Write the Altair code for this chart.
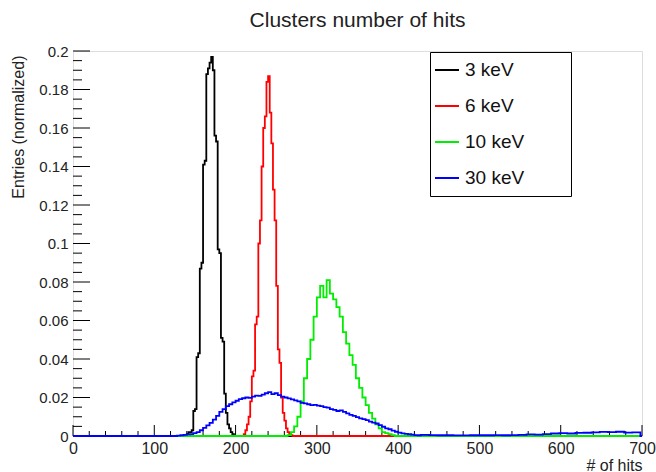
import altair as alt
import pandas as pd

# ---------------- data ----------------
series_names = ["3 keV", "6 keV", "10 keV", "30 keV"]
series_colors = ["#000000", "#ff0000", "#00ee00", "#0000ff"]

# 3 keV : bins of 2 hits starting at 140
k3_start, k3_step = 140, 2
k3_values = [0.001, 0.002, 0.002, 0.003, 0.013, 0.014, 0.041, 0.043, 0.087, 0.090,
             0.141, 0.143, 0.188, 0.191, 0.194, 0.197, 0.190, 0.156, 0.153, 0.097,
             0.095, 0.051, 0.049, 0.022, 0.012, 0.006, 0.004, 0.002, 0.001]

# 6 keV : bins of 2 hits starting at 210
k6_start, k6_step = 210, 2
k6_values = [0.001, 0.003, 0.006, 0.010, 0.018, 0.031, 0.034, 0.058, 0.062, 0.100,
             0.112, 0.140, 0.160, 0.166, 0.184, 0.187, 0.168, 0.152, 0.128, 0.112,
             0.078, 0.045, 0.038, 0.020, 0.012, 0.008, 0.004, 0.002, 0.001, 0.0005]

# 10 keV : bins of 4 hits starting at 264
k10_start, k10_step = 264, 4
k10_values = [0.0005, 0.002, 0.005, 0.010, 0.018, 0.030, 0.040, 0.050, 0.062, 0.072,
              0.078, 0.072, 0.081, 0.074, 0.071, 0.067, 0.062, 0.054, 0.048, 0.042,
              0.037, 0.030, 0.025, 0.020, 0.016, 0.012, 0.009, 0.006, 0.004, 0.002,
              0.0015, 0.001, 0.0005]

# 30 keV : bins of 4 hits starting at 128 (main bump)
k30_start, k30_step = 128, 4
k30_values = [0.0002, 0.0004, 0.0006, 0.0008, 0.0010, 0.0015, 0.0020, 0.0030, 0.0042, 0.0055,
              0.0068, 0.0085, 0.0105, 0.0125, 0.0140, 0.0155, 0.0165, 0.0175, 0.0183, 0.0192,
              0.0196, 0.0200, 0.0198, 0.0205, 0.0210, 0.0208, 0.0215, 0.0222, 0.0228, 0.0218,
              0.0222, 0.0212, 0.0205, 0.0200, 0.0195, 0.0190, 0.0185, 0.0180, 0.0172, 0.0170,
              0.0165, 0.0160, 0.0162, 0.0158, 0.0155, 0.0150, 0.0147, 0.0140, 0.0136, 0.0130,
              0.0133, 0.0125, 0.0118, 0.0110, 0.0105, 0.0098, 0.0092, 0.0088, 0.0082, 0.0075,
              0.0070, 0.0065, 0.0056, 0.0048, 0.0040, 0.0035, 0.0028, 0.0022, 0.0018, 0.0014,
              0.0011, 0.0009, 0.0007, 0.0005, 0.0004]
# 30 keV : tail, bins of 10 hits starting at 428
k30_tail_start, k30_tail_step = 428, 10
k30_tail_values = [0.0006, 0.0005, 0.0004, 0.0004, 0.0003, 0.0003, 0.0004, 0.0004, 0.0004, 0.0005,
                   0.0004, 0.0005, 0.0006, 0.0008, 0.0007, 0.0010, 0.0013, 0.0015, 0.0013, 0.0016,
                   0.0017, 0.0019, 0.0021, 0.0020, 0.0022, 0.0018, 0.0019]

x_major = [0, 100, 200, 300, 400, 500, 600, 700]
x_minor = [v for v in range(0, 701, 20) if v % 100 != 0]
y_major = [0, 0.02, 0.04, 0.06, 0.08, 0.1, 0.12, 0.14, 0.16, 0.18, 0.2]
y_minor = [round(i * 0.005, 3) for i in range(41) if i % 4 != 0]

X_MAX = 700

# ---------------- build step-histogram table ----------------
def hist_rows(name, parts):
    rows = [(name, 0, 0.0)]
    end = 0
    for start, step, values in parts:
        if start > end:
            rows.append((name, end, 0.0))
        for i, v in enumerate(values):
            rows.append((name, start + i * step, v))
        end = start + len(values) * step
    rows.append((name, end, 0.0))
    rows.append((name, X_MAX, 0.0))
    return rows

rows = []
rows += hist_rows("3 keV", [(k3_start, k3_step, k3_values)])
rows += hist_rows("6 keV", [(k6_start, k6_step, k6_values)])
rows += hist_rows("10 keV", [(k10_start, k10_step, k10_values)])
rows += hist_rows("30 keV", [(k30_start, k30_step, k30_values),
                             (k30_tail_start, k30_tail_step, k30_tail_values)])
df = pd.DataFrame(rows, columns=["energy", "hits", "entries"])

W, H = 569, 385
FONT = "Liberation Sans"

xscale = alt.Scale(domain=[0, X_MAX], nice=False, zero=False)
yscale = alt.Scale(domain=[0, 0.2], nice=False)

xaxis = alt.Axis(values=x_major, format="d", ticks=False, tickSize=0, domain=False, grid=False,
                 labelFlush=False, labelFontSize=16, labelFont=FONT, labelColor="#222",
                 labelPadding=4,
                 title="# of hits", titleFontSize=16, titleFont=FONT, titleFontWeight="normal",
                 titleColor="#222", titleX=W, titleY=34, titleAlign="right",
                 titleBaseline="alphabetic")
yaxis = alt.Axis(values=y_major, format="~g", ticks=False, tickSize=0, domain=False, grid=False,
                 labelFlush=False, labelFontSize=15, labelFont=FONT, labelColor="#222",
                 labelPadding=5,
                 title="Entries (normalized)", titleFontSize=16, titleFont=FONT,
                 titleFontWeight="normal", titleColor="#222", titleAngle=270,
                 titleX=-63, titleY=4, titleAlign="right", titleBaseline="top")

# blank (non-whitespace) padding so the legend box gets the reference's width
PAD = "\u2800" * 3
color_scale = alt.Scale(domain=series_names, range=series_colors)
legend = alt.Legend(title=None, orient="none", legendX=357, legendY=1,
                    strokeColor="black", fillColor="white", padding=4,
                    symbolType="stroke", symbolSize=576, symbolStrokeWidth=2,
                    labelFontSize=19, labelFont=FONT, labelColor="#111", labelOffset=5,
                    labelLimit=300, clipHeight=28, rowPadding=8,
                    labelExpr="datum.label + '" + PAD + "'")

def xt(field):
    return alt.X(field, type="quantitative", scale=xscale, axis=xaxis)

def yt(field):
    return alt.Y(field, type="quantitative", scale=yscale, axis=yaxis)

# inward ticks
xmaj = alt.Chart(pd.DataFrame({"t": x_major})).mark_rule(color="black", strokeWidth=1).encode(
    x=xt("t"), y=alt.value(H), y2=alt.value(H - 11))
xmin = alt.Chart(pd.DataFrame({"t": x_minor})).mark_rule(color="black", strokeWidth=1).encode(
    x=xt("t"), y=alt.value(H), y2=alt.value(H - 5))
ymaj = alt.Chart(pd.DataFrame({"v": y_major})).mark_rule(color="black", strokeWidth=1).encode(
    y=yt("v"), x=alt.value(0), x2=alt.value(17))
ymin = alt.Chart(pd.DataFrame({"v": y_minor})).mark_rule(color="black", strokeWidth=1).encode(
    y=yt("v"), x=alt.value(0), x2=alt.value(9))

line_layers = []
for name in series_names:
    line_layers.append(
        alt.Chart(df).transform_filter(alt.datum.energy == name)
        .mark_line(interpolate="step-after", strokeWidth=1.8)
        .encode(x=xt("hits"), y=yt("entries"),
                color=alt.Color("energy:N", scale=color_scale, legend=legend))
    )

chart = alt.layer(xmaj, xmin, ymaj, ymin, *line_layers).properties(
    width=W, height=H,
    autosize=alt.AutoSizeParams(type="none"),
    padding={"left": 73, "top": 51, "right": 14, "bottom": 36},
    title=alt.TitleParams("Clusters number of hits", fontSize=21, fontWeight="normal",
                          font=FONT, color="#222", anchor="middle", frame="group",
                          baseline="alphabetic", offset=19, dy=23),
).configure_view(stroke="black", strokeWidth=1).configure(background="white")

chart.save("out.html", embed_options={"renderer": "svg", "actions": False})
